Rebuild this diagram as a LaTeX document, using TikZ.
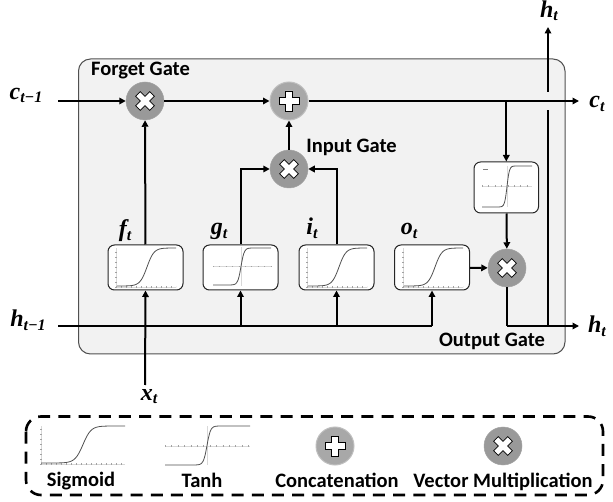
\documentclass[tikz,border=0pt]{standalone}
\usepackage{fontspec}
\setmainfont{Carlito}
\newfontfamily\mfont{Liberation Serif}
\usetikzlibrary{arrows.meta}
\definecolor{panelfill}{HTML}{F2F2F2}
\definecolor{panelline}{HTML}{505050}
\definecolor{multfill}{HTML}{999999}
\definecolor{plusfill}{HTML}{A8A8A8}
\definecolor{plusline}{HTML}{BFBFBF}
\definecolor{axisgray}{HTML}{D8D8D8}
\definecolor{curvegray}{HTML}{505050}
\newcommand\lab[2]{{\fontsize{24}{24}\selectfont\mfont\bfseries\itshape #1}\raisebox{-3.5pt}{\fontsize{16}{16}\selectfont\mfont\bfseries\itshape #2}}
\newcommand\gatetxt[1]{{\fontsize{20.5}{20.5}\selectfont\bfseries #1}}
% sigmoid: x0 x1 ybottom ytop centre steepness
\newcommand\curveplot[6]{\draw[curvegray,line width=.8pt,smooth,samples=50,domain=#1:#2,variable=\u]
  plot ({\u},{(#3+#4)/2-((#3-#4)/2)*tanh(max(-4,min(4,(\u-#5)/#6)))});}
\newcommand\sigaxes[4]{% x0 x1 ybottom ytop
  \draw[axisgray,line width=.5pt] (#1,#3)--(#2,#3) (#1,#3)--(#1,#4);
  \draw[axisgray!75!black,line width=1.4pt,dash pattern=on .4pt off 4.6pt] (#1,#3)--(#2,#3) (#1,#3)--(#1,#4);}
\newcommand\tanhaxes[5]{% x0 x1 ymid ytop ybot ; at centre
  \draw[axisgray,line width=.5pt] (#1,#3)--(#2,#3);
  \draw[axisgray!75!black,line width=1.4pt,dash pattern=on .4pt off 6pt] (#1,#3)--(#2,#3);}
\newcommand\crossmark[1]{\draw[black,fill=white,line width=.7pt,rotate around={45:(#1)},shift={(#1)}]
  (-3.2,-10)--(3.2,-10)--(3.2,-3.2)--(10,-3.2)--(10,3.2)--(3.2,3.2)--(3.2,10)--(-3.2,10)--(-3.2,3.2)--(-10,3.2)--(-10,-3.2)--(-3.2,-3.2)--cycle;}
\newcommand\plusmark[1]{\draw[black,fill=white,line width=.7pt,shift={(#1)}]
  (-3.6,-10)--(3.6,-10)--(3.6,-3.6)--(10,-3.6)--(10,3.6)--(3.6,3.6)--(3.6,10)--(-3.6,10)--(-3.6,3.6)--(-10,3.6)--(-10,-3.6)--(-3.6,-3.6)--cycle;}
\tikzset{
  panel/.style={draw=panelline,fill=panelfill,line width=1pt,rounded corners=12pt},
  multnode/.style={circle,fill=multfill,draw=multfill!90!white,line width=.5pt,inner sep=0pt,minimum size=38pt},
  plusnode/.style={circle,fill=plusfill,draw=plusline,line width=1pt,inner sep=0pt,minimum size=38pt},
  gatebox/.style={draw=black!85,fill=white,line width=1pt,rounded corners=6.5pt,inner sep=0pt,minimum width=75pt,minimum height=45pt},
  tbox/.style={gatebox,minimum width=64.5pt,minimum height=51pt},
  conn/.style={line width=2pt,black,-{Triangle[length=6.5pt,width=6.5pt]}},
  plain/.style={line width=2pt,black},
  legendbox/.style={draw=black,line width=2.6pt,dash pattern=on 12pt off 8.2pt,rounded corners=15pt},
  txt/.style={anchor=base,inner sep=0pt},
}
\begin{document}
\begin{tikzpicture}[x=1pt,y=-1pt]
\useasboundingbox (0,0) rectangle (613,502);
\fill[white] (0,0) rectangle (613,502);
\draw[panel] (78.5,59) rectangle (565,354);
% operator nodes
\node[multnode] (fm) at (145,101) {};
\node[plusnode] (pl) at (289,101) {};
\node[multnode] (im) at (289,169) {};
\node[multnode] (om) at (507,268) {};
% gate boxes
\node[gatebox] (fbox) at (145.5,267.5) {};
\node[gatebox] (gbox) at (240.5,267.5) {};
\node[gatebox] (ibox) at (336.5,267.5) {};
\node[gatebox] (obox) at (432,267.5) {};
\node[tbox] (tb) at (506.3,187.5) {};
% free ends
\coordinate (cin) at (58,101);
\coordinate (cout) at (579,101);
\coordinate (hin) at (58,326);
\coordinate (hout) at (579,326);
\coordinate (xin) at (145,385);
\coordinate (htop) at (548,27);
\coordinate (hgapu) at (548,92);
\coordinate (hgapl) at (548,110);
\coordinate (jc) at (506.3,101);
\coordinate (jo) at (548,326);
\coordinate (jomc) at (507,326);
% connectors
\draw[conn] (cin) -- (fm);
\draw[conn] (fm) -- (pl);
\draw[conn] (pl) -- (cout);
\draw[conn] (im) -- (pl);
\draw[conn] (fbox) -- (fm);
\draw[conn] (gbox.north) |- (im);
\draw[conn] (ibox.north) |- (im);
\draw[conn] (jc) -- (tb);
\draw[conn] (tb) -- (om);
\draw[conn] (obox) -- (om);
\draw[plain] (om) |- (jomc);
\draw[conn] (jomc) -- (hout);
\draw[plain] (jo) -- (hgapl);
\draw[conn] (hgapu) -- (htop);
\draw[plain] (hin) -- (obox.south |- hin);
\draw[conn] (obox.south |- hin) -- (obox.south);
\draw[conn] (gbox.south |- hin) -- (gbox.south);
\draw[conn] (ibox.south |- hin) -- (ibox.south);
\draw[conn] (xin) -- (fbox.south);
% redraw operators' glyphs
\crossmark{145,101}
\plusmark{289,101}
\crossmark{289,169}
\crossmark{507,268}
% curves in boxes
\sigaxes{116}{176}{287}{248}
\curveplot{117}{176}{286}{248}{147}{7}
\tanhaxes{213}{271}{266.5}{248}{285}
\draw[axisgray,line width=.5pt] (241,247)--(241,286);
\curveplot{213}{271}{285}{248}{241}{3.2}
\sigaxes{307}{367}{287}{248}
\curveplot{308}{367}{286}{248}{339}{7}
\sigaxes{403}{463}{287}{248}
\curveplot{404}{463}{286}{248}{435}{7}
\tanhaxes{482}{532}{186}{166}{207}
\draw[axisgray,line width=.5pt] (507,166)--(507,207);
\curveplot{482}{532}{207}{166}{507}{2.4}
\draw[gray,line width=.8pt] (483,169)--(488,169);
% labels
\node[txt] (lc1) at (26,99.5) {\lab{c}{t−1}};
\node[txt] (lh1) at (28,327) {\lab{h}{t−1}};
\node[txt] (lct) at (597,108) {\lab{c}{t}};
\node[txt] (lht) at (597,333) {\lab{h}{t}};
\node[txt] (lht2) at (549,17.5) {\lab{h}{t}};
\node[txt] (lx) at (149,400) {\lab{x}{t}};
\node[txt] (lf) at (125,237) {\lab{f}{t}};
\node[txt] (lg) at (219,235) {\lab{g}{t}};
\node[txt] (li) at (312,235) {\lab{i}{t}};
\node[txt] (lo) at (409,235) {\lab{o}{t}};
\node[txt] (fg) at (140.5,76) {\gatetxt{Forget Gate}};
\node[txt] (ig) at (351.5,153) {\gatetxt{Input Gate}};
\node[txt] (og) at (492,346.5) {\gatetxt{Output Gate}};
% legend
\draw[legendbox] (26,416.5) rectangle (603,495);
\sigaxes{41}{125}{464}{426}
\curveplot{41}{125}{463}{426}{83}{8}
\tanhaxes{165}{250}{446}{426}{465}
\draw[axisgray,line width=.5pt] (207,426)--(207,465);
\curveplot{165}{250}{465}{426}{207}{3.5}
\node[plusnode] (lp) at (335,446) {};
\plusmark{335,446}
\node[multnode] (lm) at (503,446) {};
\crossmark{503,446}
\node[txt] (ts) at (81,486) {\gatetxt{Sigmoid}};
\node[txt] (tt) at (202,487) {\gatetxt{Tanh}};
\node[txt] (tc) at (337,487) {\gatetxt{Concatenation}};
\node[txt] (tv) at (503,487) {\gatetxt{Vector Multiplication}};
\end{tikzpicture}
\end{document}
